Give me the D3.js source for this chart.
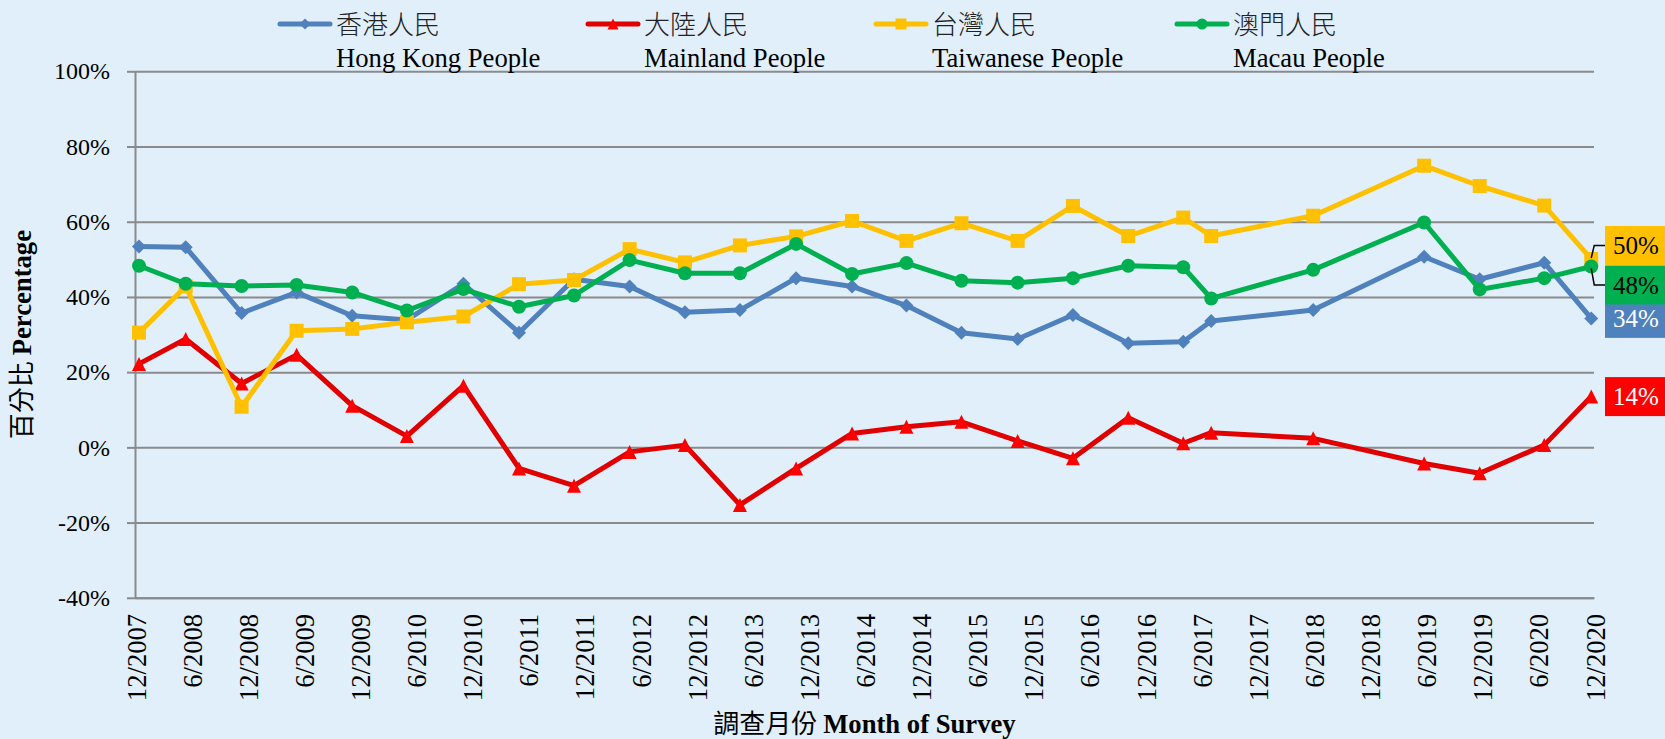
<!DOCTYPE html>
<html>
<head>
<meta charset="utf-8">
<script src="https://cdn.jsdelivr.net/npm/d3@7"></script>
<style>
  html, body { margin: 0; padding: 0; background: #E1EFFA; }
  svg { display: block; }
</style>
</head>
<body>
<svg id="chart" width="1665" height="739"></svg>
<script>
// ---------------- DATA ----------------
const surveyDates = ["2007-12-14","2008-05-14","2008-11-12","2009-05-10","2009-11-07","2010-05-04","2010-11-04",
  "2011-05-04","2011-10-30","2012-04-28","2012-10-25","2013-04-22","2013-10-22","2014-04-22","2014-10-16",
  "2015-04-13","2015-10-13","2016-04-10","2016-10-07","2017-04-04","2017-07-04","2018-06-01","2019-05-28",
  "2019-11-25","2020-06-22","2020-11-22"];

const hongKongPeople = [53.4, 53.2, 35.7, 41.2, 35.0, 33.9, 43.5, 30.5, 44.7, 42.8, 35.9, 36.5, 45.0, 42.8, 37.7,
  30.5, 28.8, 35.2, 27.7, 28.1, 33.6, 36.5, 50.7, 44.7, 49.1, 34.3];
const mainlandPeople = [22.2, 28.8, 17.0, 24.6, 11.1, 3.0, 16.4, -5.6, -10.2, -1.2, 0.6, -15.3, -5.6, 3.7, 5.5,
  6.8, 1.7, -2.9, 7.9, 1.1, 3.9, 2.4, -4.3, -6.9, 0.6, 13.5];
const taiwanesePeople = [30.5, 42.8, 10.8, 31.0, 31.5, 33.3, 34.8, 43.4, 44.5, 52.7, 49.2, 53.7, 56.1, 60.2, 54.9,
  59.6, 54.9, 64.2, 56.2, 61.1, 56.2, 61.6, 74.9, 69.5, 64.3, 50.1];
const macauPeople = [48.3, 43.5, 42.9, 43.2, 41.2, 36.4, 42.1, 37.4, 40.4, 49.8, 46.3, 46.3, 54.1, 46.1, 49.0,
  44.3, 43.8, 45.0, 48.3, 47.9, 39.6, 47.2, 59.8, 42.0, 45.0, 48.1];

const seriesNamesZh = ["香港人民", "大陸人民", "台灣人民", "澳門人民"];
const seriesNamesEn = ["Hong Kong People", "Mainland People", "Taiwanese People", "Macau People"];
const lastLabels = ["34%", "14%", "50%", "48%"];

const xTickLabels = ["12/2007","6/2008","12/2008","6/2009","12/2009","6/2010","12/2010","6/2011","12/2011",
  "6/2012","12/2012","6/2013","12/2013","6/2014","12/2014","6/2015","12/2015","6/2016","12/2016","6/2017",
  "12/2017","6/2018","12/2018","6/2019","12/2019","6/2020","12/2020"];
const yTicks = [-40, -20, 0, 20, 40, 60, 80, 100];

// ---------------- STYLE / LAYOUT ----------------
const colors = ["#4F81BD", "#E00000", "#FFC000", "#00B050"];
const markerFill = ["#4F81BD", "#FF0000", "#FFC000", "#00B050"];
const markerTypes = ["diamond", "triangle", "square", "circle"];
const labelTextColor = ["#FFFFFF", "#FFFFFF", "#000000", "#000000"];
const labelOffsetY = [0, 0, -13.5, 18.5];
const legendX = [278, 586, 874, 1175];

const serif = "'Liberation Serif','Times New Roman',serif";
const cjk = "'Noto Sans CJK TC','Noto Sans CJK SC',sans-serif";

const plot = { left: 135, right: 1594, top: 71.3, bottom: 597.8 };

const svg = d3.select("#chart");
svg.append("rect").attr("width", 1665).attr("height", 739).attr("fill", "#E1EFFA");

const parseDate = d3.timeParse("%Y-%m-%d");
const parseTick = d3.timeParse("%m/%Y");
const dates = surveyDates.map(parseDate);
const tickDates = xTickLabels.map(parseTick);

const x = d3.scaleTime()
  .domain([tickDates[0], tickDates[tickDates.length - 1]])
  .range([plot.left, plot.right]);
const y = d3.scaleLinear().domain([-40, 100]).range([plot.bottom, plot.top]);

// gridlines
const grid = svg.append("g").attr("transform", `translate(${plot.left},0)`)
  .call(d3.axisLeft(y).tickValues(yTicks).tickSize(-(plot.right - plot.left)).tickFormat(""));
grid.select(".domain").remove();
grid.selectAll("line").attr("stroke", "#8A8A8A").attr("stroke-width", 2);

// y axis with labels
const yAxis = svg.append("g").attr("transform", `translate(${plot.left},0)`)
  .call(d3.axisLeft(y).tickValues(yTicks).tickSize(8).tickSizeOuter(0).tickPadding(17).tickFormat(d => d + "%"));
yAxis.select(".domain").attr("stroke", "#8A8A8A").attr("stroke-width", 2);
yAxis.selectAll("line").attr("stroke", "#8A8A8A").attr("stroke-width", 2);
yAxis.selectAll("text").attr("font-family", serif).attr("font-size", 24).attr("fill", "#000");

// x axis
const xAxis = svg.append("g").attr("transform", `translate(0,${plot.bottom})`)
  .call(d3.axisBottom(x).tickValues(tickDates).tickSize(0).tickSizeOuter(0)
    .tickFormat((d, i) => xTickLabels[i]));
xAxis.select(".domain").attr("stroke", "#8A8A8A").attr("stroke-width", 2);
xAxis.selectAll("text")
  .attr("font-family", serif).attr("font-size", 26.67).attr("fill", "#000")
  .attr("text-anchor", "end")
  .attr("dy", null)
  .attr("y", 0)
  .attr("dominant-baseline", "central")
  .attr("transform", "translate(1,16) rotate(-90)");

// series
const allSeries = [hongKongPeople, mainlandPeople, taiwanesePeople, macauPeople];

function markerPath(type, s) {
  const h = s / 2;
  if (type === "diamond") return `M0,${-h}L${h},0L0,${h}L${-h},0Z`;
  if (type === "triangle") return `M0,${-h}L${h},${h}L${-h},${h}Z`;
  if (type === "square") return `M${-h},${-h}H${h}V${h}H${-h}Z`;
  return d3.symbol(d3.symbolCircle, Math.PI * h * h)();
}

const line = d3.line().x(d => x(d.date)).y(d => y(d.value));

allSeries.forEach((vals, si) => {
  const pts = vals.map((v, i) => ({ date: dates[i], value: v }));
  const g = svg.append("g");
  g.append("path").datum(pts).attr("d", line)
    .attr("fill", "none").attr("stroke", colors[si]).attr("stroke-width", 5)
    .attr("stroke-linejoin", "round").attr("stroke-linecap", "round");
  g.selectAll("path.mk").data(pts).enter().append("path").attr("class", "mk")
    .attr("transform", d => `translate(${x(d.date)},${y(d.value)})`)
    .attr("d", markerPath(markerTypes[si], markerTypes[si] === "circle" ? 14 : 14))
    .attr("fill", markerFill[si]);
});

// data labels at the end
const labelOrder = [0, 1, 2, 3];
const lx = 1605, lw = 62, lh = 39;
// leader lines for moved labels
[2, 3].forEach(si => {
  const vals = allSeries[si];
  const px = x(dates[dates.length - 1]);
  const py = y(vals[vals.length - 1]);
  const cy = py + labelOffsetY[si];
  svg.append("path")
    .attr("d", `M${lx},${cy}H${px + 3}L${px},${py + (si === 2 ? -1 : 2)}`)
    .attr("fill", "none").attr("stroke", "#000").attr("stroke-width", 1.5);
});
labelOrder.forEach(si => {
  const vals = allSeries[si];
  const cy = y(vals[vals.length - 1]) + labelOffsetY[si];
  svg.append("rect").attr("x", lx).attr("y", cy - lh / 2).attr("width", lw).attr("height", lh)
    .attr("fill", markerFill[si]);
  svg.append("text").attr("x", lx + 31).attr("y", cy).attr("dy", "0.35em")
    .attr("text-anchor", "middle").attr("font-family", serif).attr("font-size", 25)
    .attr("fill", labelTextColor[si]).text(lastLabels[si]);
});

// legend
seriesNamesZh.forEach((zh, si) => {
  const x0 = legendX[si];
  const g = svg.append("g");
  g.append("line").attr("x1", x0 + 2).attr("x2", x0 + 52).attr("y1", 24).attr("y2", 24)
    .attr("stroke", colors[si]).attr("stroke-width", 5).attr("stroke-linecap", "round");
  g.append("path").attr("transform", `translate(${x0 + 27},24)`)
    .attr("d", markerPath(markerTypes[si], 11)).attr("fill", markerFill[si]);
  g.append("text").attr("x", x0 + 58).attr("y", 34)
    .attr("font-family", cjk).attr("font-size", 26).attr("font-weight", 300).attr("fill", "#222").text(zh);
  g.append("text").attr("x", x0 + 58).attr("y", 66.5)
    .attr("font-family", serif).attr("font-size", 26.67).attr("fill", "#000").text(seriesNamesEn[si]);
});

// axis titles
const yt = svg.append("text")
  .attr("transform", `translate(31,${(plot.top + plot.bottom) / 2}) rotate(-90)`)
  .attr("text-anchor", "middle").attr("fill", "#000");
yt.append("tspan").attr("font-family", cjk).attr("font-size", 26).text("百分比 ");
yt.append("tspan").attr("font-family", serif).attr("font-size", 26.67).attr("font-weight", "bold").text("Percentage");

const xt = svg.append("text")
  .attr("x", (plot.left + plot.right) / 2).attr("y", 733)
  .attr("text-anchor", "middle").attr("fill", "#000");
xt.append("tspan").attr("font-family", cjk).attr("font-size", 26).text("調查月份 ");
xt.append("tspan").attr("font-family", serif).attr("font-size", 26.67).attr("font-weight", "bold").text("Month of Survey");
</script>
</body>
</html>
